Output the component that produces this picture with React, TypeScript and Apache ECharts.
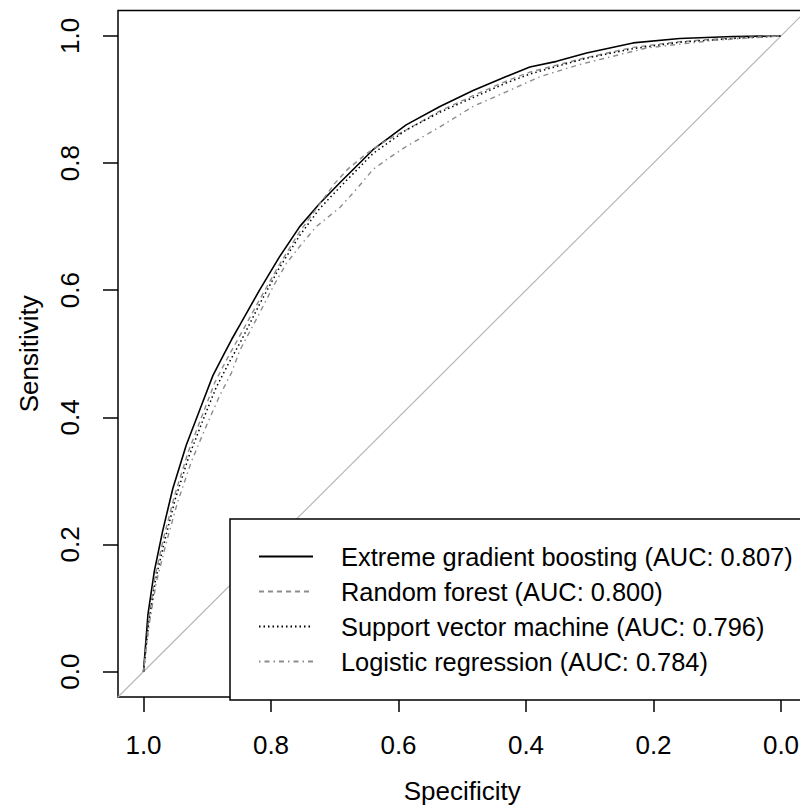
import React, { useEffect, useRef } from "react";
import * as echarts from "echarts";

// [specificity, sensitivity] points
const xgbSpec = [1.0, 0.993, 0.983, 0.97, 0.954, 0.933, 0.909, 0.891, 0.875, 0.862, 0.849, 0.818, 0.787, 0.755, 0.724, 0.692, 0.64, 0.588, 0.535, 0.483, 0.431, 0.394, 0.352, 0.305, 0.232, 0.159, 0.075, 0.0];
const xgbSens = [0.0, 0.09, 0.158, 0.221, 0.288, 0.356, 0.419, 0.466, 0.497, 0.522, 0.545, 0.6, 0.652, 0.7, 0.736, 0.769, 0.821, 0.86, 0.889, 0.914, 0.936, 0.951, 0.96, 0.973, 0.989, 0.996, 0.999, 1.0];

const rfSpec = [1.0, 0.992, 0.982, 0.968, 0.951, 0.93, 0.906, 0.888, 0.87, 0.848, 0.818, 0.787, 0.755, 0.724, 0.7, 0.68, 0.65, 0.62, 0.588, 0.535, 0.483, 0.431, 0.394, 0.352, 0.305, 0.232, 0.159, 0.075, 0.0];
const rfSens = [0.0, 0.08, 0.15, 0.212, 0.278, 0.345, 0.408, 0.455, 0.49, 0.53, 0.585, 0.64, 0.692, 0.735, 0.768, 0.79, 0.815, 0.835, 0.852, 0.882, 0.906, 0.929, 0.943, 0.954, 0.966, 0.982, 0.991, 0.997, 1.0];

const svmSpec = [1.0, 0.992, 0.981, 0.967, 0.95, 0.929, 0.905, 0.886, 0.868, 0.846, 0.818, 0.787, 0.755, 0.724, 0.692, 0.64, 0.588, 0.535, 0.483, 0.431, 0.394, 0.352, 0.305, 0.232, 0.159, 0.075, 0.0];
const svmSens = [0.0, 0.075, 0.145, 0.205, 0.272, 0.338, 0.4, 0.447, 0.482, 0.522, 0.578, 0.635, 0.686, 0.728, 0.762, 0.815, 0.852, 0.88, 0.903, 0.926, 0.94, 0.952, 0.965, 0.98, 0.99, 0.996, 1.0];

const lrSpec = [1.0, 0.991, 0.98, 0.965, 0.947, 0.925, 0.9, 0.88, 0.862, 0.849, 0.82, 0.797, 0.776, 0.75, 0.729, 0.692, 0.665, 0.64, 0.615, 0.588, 0.535, 0.483, 0.431, 0.378, 0.316, 0.211, 0.106, 0.0];
const lrSens = [0.0, 0.075, 0.14, 0.2, 0.265, 0.33, 0.39, 0.435, 0.47, 0.505, 0.56, 0.605, 0.642, 0.675, 0.7, 0.73, 0.76, 0.79, 0.808, 0.826, 0.857, 0.889, 0.912, 0.936, 0.955, 0.981, 0.993, 1.0];

const chanceSpec = [1.04, -0.04];
const chanceSens = [-0.04, 1.04];

const tickValues = [0, 0.2, 0.4, 0.6, 0.8, 1.0];
const seriesNames = [
  "Extreme gradient boosting (AUC: 0.807)",
  "Random forest (AUC: 0.800)",
  "Support vector machine (AUC: 0.796)",
  "Logistic regression (AUC: 0.784)",
];

const FONT = "'Liberation Sans', Arial, sans-serif";
const FS = 26;
const LEGEND_FS = 25.4;

function pairs(xs: number[], ys: number[]) {
  return xs.map((x, i) => [x, ys[i]]);
}

export default function App() {
  const ref = useRef<HTMLDivElement>(null);
  useEffect(() => {
    if (!ref.current) return;
    const chart = echarts.init(ref.current, null, { renderer: "svg" });
    const axisCommon = {
      type: "value",
      min: -0.04,
      max: 1.04,
      splitLine: { show: false },
      axisLine: { show: false, onZero: false },
      axisTick: {
        show: true,
        length: 15,
        customValues: tickValues,
        lineStyle: { color: "#000", width: 1.5 },
      },
      axisLabel: {
        customValues: tickValues,
        formatter: (v: number) => v.toFixed(1),
        color: "#000",
        fontSize: FS,
        fontFamily: FONT,
        margin: 35,
      },
      nameLocation: "middle",
      nameTextStyle: { color: "#000", fontSize: FS, fontFamily: FONT },
    };
    const styles = [
      { color: "#000", type: "solid", width: 1.6 },
      { color: "#8c8c8c", type: [5, 4], width: 1.4 },
      { color: "#000", type: [1.5, 3], width: 1.5 },
      { color: "#8c8c8c", type: [1.5, 4, 5, 4], width: 1.4 },
    ];
    const dataSets = [
      pairs(xgbSpec, xgbSens),
      pairs(rfSpec, rfSens),
      pairs(svmSpec, svmSens),
      pairs(lrSpec, lrSens),
    ];
    chart.setOption({
      animation: false,
      backgroundColor: "#fff",
      grid: {
        left: 118,
        top: 10.5,
        width: 688.5,
        height: 689,
        show: true,
        borderColor: "#000",
        borderWidth: 1.5,
        containLabel: false,
      },
      xAxis: {
        ...axisCommon,
        inverse: true,
        name: "Specificity",
        nameGap: 81,
      },
      yAxis: {
        ...axisCommon,
        name: "Sensitivity",
        nameGap: 76,
        nameRotate: 90,
        axisLabel: { ...axisCommon.axisLabel, rotate: 90 },
      },
      legend: {
        orient: "vertical",
        left: 258,
        top: 544,
        padding: 0,
        itemWidth: 54,
        itemHeight: 14,
        itemGap: 10,
        z: 10,
        data: seriesNames,
        itemStyle: { opacity: 0 },
        textStyle: {
          color: "#000",
          fontSize: LEGEND_FS,
          fontFamily: FONT,
          lineHeight: 24,
          padding: [0, 0, 0, 23],
        },
      },
      graphic: [
        {
          type: "rect",
          z: 5,
          shape: { x: 230, y: 519, width: 620, height: 181 },
          style: { fill: "#fff", stroke: "#000", lineWidth: 1.5 },
        },
      ],
      series: [
        {
          type: "line",
          name: "chance",
          data: pairs(chanceSpec, chanceSens),
          symbol: "none",
          lineStyle: { color: "#b8b8b8", width: 1.2 },
          z: 1,
          silent: true,
        },
        ...seriesNames.map((n, i) => ({
          type: "line",
          name: n,
          data: dataSets[i],
          symbol: "none",
          lineStyle: styles[i],
          itemStyle: { color: styles[i].color },
          z: 2 + i,
        })),
      ],
    });
    return () => chart.dispose();
  }, []);
  return (
    <div
      style={{
        position: "fixed",
        left: 0,
        top: 0,
        width: 800,
        height: 809,
        overflow: "hidden",
        background: "#fff",
      }}
    >
      <div ref={ref} style={{ width: 830, height: 809 }} />
    </div>
  );
}
